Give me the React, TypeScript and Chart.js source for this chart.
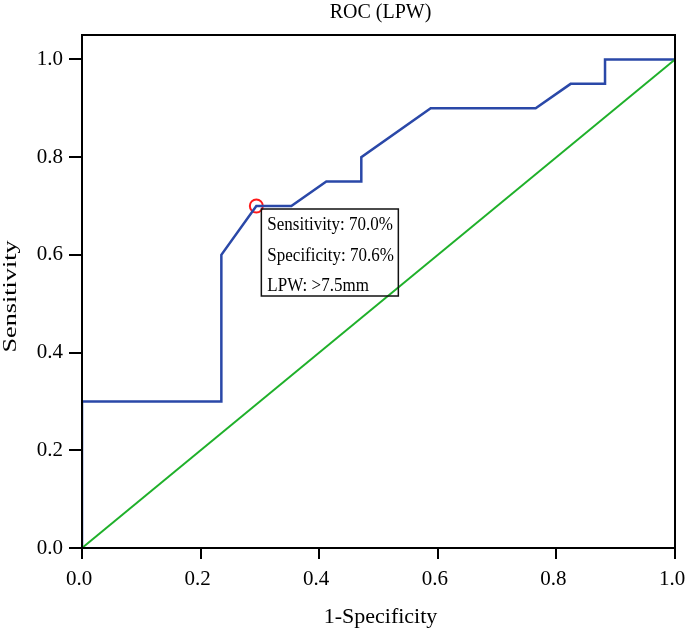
import { useEffect, useRef } from 'react';
import { Chart, registerables } from 'chart.js';

Chart.register(...registerables);

// ROC curve (1-Specificity, Sensitivity)
const rocX = [0, 0, 0.235, 0.235, 0.294, 0.353, 0.412, 0.471, 0.471, 0.588, 0.765, 0.824, 0.882, 0.882, 1.0];
const rocY = [0, 0.3, 0.3, 0.6, 0.7, 0.7, 0.75, 0.75, 0.8, 0.9, 0.9, 0.95, 0.95, 1.0, 1.0];
// Reference diagonal
const refX = [0, 1];
const refY = [0, 1];
// Optimal cut-off point
const cutoffX = [0.294];
const cutoffY = [0.7];

const xTicks = [0, 0.2, 0.4, 0.6, 0.8, 1.0];
const yTicks = [0, 0.2, 0.4, 0.6, 0.8, 1.0];

const chartTitle = 'ROC (LPW)';
const xTitle = '1-Specificity';
const yTitle = 'Sensitivity';
const annotationLines = ['Sensitivity: 70.0%', 'Specificity: 70.6%', 'LPW: >7.5mm'];

const SERIF = '"Liberation Serif", "Times New Roman", serif';

const decor = {
  id: 'decor',
  afterDatasetsDraw(chart: any) {
    const { ctx, chartArea: a, scales } = chart;
    ctx.save();
    // frame
    ctx.strokeStyle = '#000';
    ctx.lineWidth = 2;
    ctx.strokeRect(a.left, a.top, a.right - a.left, a.bottom - a.top);
    // annotation box
    const px = scales.x.getPixelForValue(cutoffX[0]);
    const py = scales.y.getPixelForValue(cutoffY[0]);
    const bx = px + 5;
    const by = py + 3;
    const bw = 137;
    const bh = 87;
    ctx.lineWidth = 1.5;
    ctx.strokeStyle = '#111';
    ctx.strokeRect(bx, by, bw, bh);
    ctx.fillStyle = '#000';
    ctx.textAlign = 'left';
    ctx.textBaseline = 'alphabetic';
    annotationLines.forEach((t, i) => {
      ctx.save();
      ctx.translate(bx + 6, by + 21 + i * 30.5);
      ctx.scale(1, 1.12);
      ctx.font = `17px ${SERIF}`;
      ctx.fillText(t, 0, 0);
      ctx.restore();
    });
    ctx.restore();
  },
  afterDraw(chart: any) {
    const { ctx, chartArea: a } = chart;
    const cx = (a.left + a.right) / 2;
    ctx.save();
    ctx.fillStyle = '#000';
    ctx.textAlign = 'center';
    ctx.textBaseline = 'alphabetic';
    ctx.font = `20px ${SERIF}`;
    ctx.fillText(chartTitle, cx + 2, 18);
    ctx.font = `22px ${SERIF}`;
    ctx.fillText(xTitle, cx + 2, 623);
    ctx.translate(16, (a.top + a.bottom) / 2 + 5);
    ctx.rotate(-Math.PI / 2);
    ctx.scale(1.38, 1);
    ctx.font = `19px ${SERIF}`;
    ctx.fillText(yTitle, 0, 0);
    ctx.restore();
  },
};

export default function App() {
  const ref = useRef<HTMLCanvasElement | null>(null);

  useEffect(() => {
    document.body.style.margin = '0';
    const canvas = ref.current;
    if (!canvas) return;
    const chart = new Chart(canvas, {
      type: 'scatter',
      data: {
        datasets: [
          {
            data: refX.map((x, i) => ({ x, y: refY[i] })),
            showLine: true,
            borderColor: '#1fb02a',
            borderWidth: 2,
            pointRadius: 0,
            fill: false,
          },
          {
            data: rocX.map((x, i) => ({ x, y: rocY[i] })),
            showLine: true,
            borderColor: '#2a48a8',
            borderWidth: 2.5,
            pointRadius: 0,
            fill: false,
            tension: 0,
          },
          {
            data: cutoffX.map((x, i) => ({ x, y: cutoffY[i] })),
            showLine: false,
            pointRadius: 6.5,
            pointBorderColor: '#ff1a1a',
            pointBackgroundColor: 'rgba(0,0,0,0)',
            pointBorderWidth: 2,
          },
        ],
      },
      options: {
        responsive: false,
        animation: false,
        devicePixelRatio: 1,
        layout: { padding: { top: 35, right: 10, left: 0, bottom: 0 } },
        plugins: {
          legend: { display: false },
          tooltip: { enabled: false },
          title: { display: false },
        },
        scales: {
          x: {
            type: 'linear',
            min: 0,
            max: 1,
            afterBuildTicks: (s: any) => {
              s.ticks = xTicks.map((v) => ({ value: v }));
            },
            afterFit: (s: any) => {
              s.height = 81;
              s.paddingLeft = 0;
              s.paddingRight = 0;
            },
            ticks: {
              callback: (v: any) => Number(v).toFixed(1),
              color: '#000',
              font: { family: SERIF, size: 21 },
              padding: 8,
              labelOffset: -3,
              maxRotation: 0,
              autoSkip: false,
            },
            grid: { drawOnChartArea: false, drawTicks: true, tickLength: 11, color: '#000', lineWidth: 2 },
            border: { display: false },
          },
          y: {
            type: 'linear',
            min: 0,
            max: 1.05,
            afterBuildTicks: (s: any) => {
              s.ticks = yTicks.map((v) => ({ value: v }));
            },
            afterFit: (s: any) => {
              s.width = 82;
              s.paddingTop = 0;
              s.paddingBottom = 0;
            },
            ticks: {
              callback: (v: any) => Number(v).toFixed(1),
              color: '#000',
              font: { family: SERIF, size: 21 },
              padding: 6,
              autoSkip: false,
            },
            grid: { drawOnChartArea: false, drawTicks: true, tickLength: 13, color: '#000', lineWidth: 2 },
            border: { display: false },
          },
        },
      },
      plugins: [decor],
    });
    return () => chart.destroy();
  }, []);

  return <canvas ref={ref} width={685} height={629} style={{ display: 'block' }} />;
}
